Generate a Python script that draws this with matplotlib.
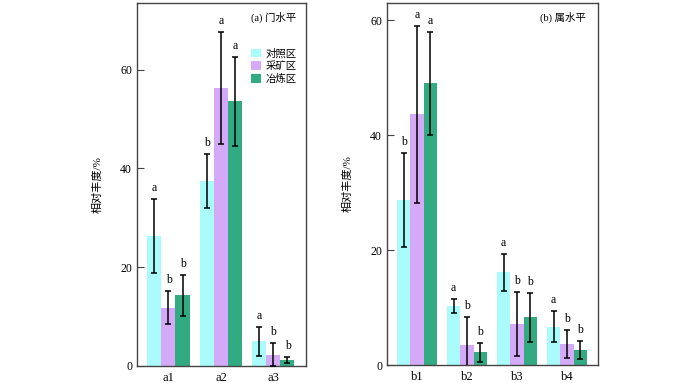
import matplotlib.pyplot as plt
import numpy as np

plt.rcParams["font.family"] = ["Liberation Serif", "Noto Sans CJK SC"]
plt.rcParams["font.size"] = 8

groups = ["对照区", "采矿区", "冶炼区"]
colors = ["#aafcfc", "#d4aaf8", "#33ab82"]

# (a) phylum level
cats_a = ["a1", "a2", "a3"]
vals_a = [[26.3, 37.5, 5.0],
          [11.8, 56.3, 2.3],
          [14.3, 53.6, 1.3]]
errs_a = [[7.5, 5.5, 2.9],
          [3.3, 11.3, 2.3],
          [4.2, 9.0, 0.6]]
lets_a = [["a", "b", "a"],
          ["b", "a", "b"],
          ["b", "a", "b"]]

# (b) genus level
cats_b = ["b1", "b2", "b3", "b4"]
vals_b = [[28.7, 10.3, 16.1, 6.7],
          [43.6, 3.5, 7.1, 3.7],
          [49.0, 2.2, 8.3, 2.6]]
errs_b = [[8.2, 1.2, 3.2, 2.65],
          [15.4, 4.8, 5.6, 2.4],
          [9.0, 1.7, 4.3, 1.6]]
lets_b = [["b", "a", "a", "a"],
          ["a", "b", "b", "b"],
          ["a", "b", "b", "b"]]

fig = plt.figure(figsize=(7, 3.83), dpi=100)
ax1 = fig.add_axes([137 / 700, 17 / 383, 169 / 700, 363 / 383])
ax2 = fig.add_axes([387 / 700, 18 / 383, 211 / 700, 362 / 383])

w = 0.267


def panel(ax, cats, vals, errs, lets, ymax, title, yticks):
    x = np.arange(len(cats))
    for i in range(3):
        xi = x + (i - 1) * w
        ax.bar(xi, vals[i], w, color=colors[i], label=groups[i], zorder=1)
        ax.errorbar(xi, vals[i], yerr=errs[i], fmt="none", ecolor="black",
                    elinewidth=1.1, capsize=2, capthick=1.1, zorder=3)
        for xx, v, e, t in zip(xi, vals[i], errs[i], lets[i]):
            ax.text(xx, v + e + ymax * 0.014, t, ha="center", va="bottom",
                    fontsize=8.5)
    ax.set_xticks(x)
    ax.set_xticklabels(cats, fontsize=9)
    ax.set_xlim(-0.6, len(cats) - 1 + 0.62)
    ax.set_ylim(0, ymax)
    ax.set_yticks(yticks)
    ax.tick_params(axis="y", direction="in", length=5, color="#444444",
                   labelsize=8.5)
    ax.tick_params(axis="x", length=0, pad=4)
    for s in ax.spines.values():
        s.set_color("#444444")
        s.set_linewidth(1.0)
    ax.set_ylabel("相对丰度/%", fontsize=8, labelpad=13)
    ax.text(0.94, 0.975, title, transform=ax.transAxes, ha="right", va="top",
            fontsize=7.5, fontweight="medium")


panel(ax1, cats_a, vals_a, errs_a, lets_a, 73.5, "(a) 门水平", [0, 20, 40, 60])
panel(ax2, cats_b, vals_b, errs_b, lets_b, 63.0, "(b) 属水平", [0, 20, 40, 60])

ax1.legend(loc="upper right", bbox_to_anchor=(0.99, 0.895), frameon=False,
           handlelength=0.9, handleheight=0.9, handletextpad=0.5,
           labelspacing=0.25, fontsize=7.5, borderaxespad=0.3)

fig.savefig("out.png", dpi=100)
